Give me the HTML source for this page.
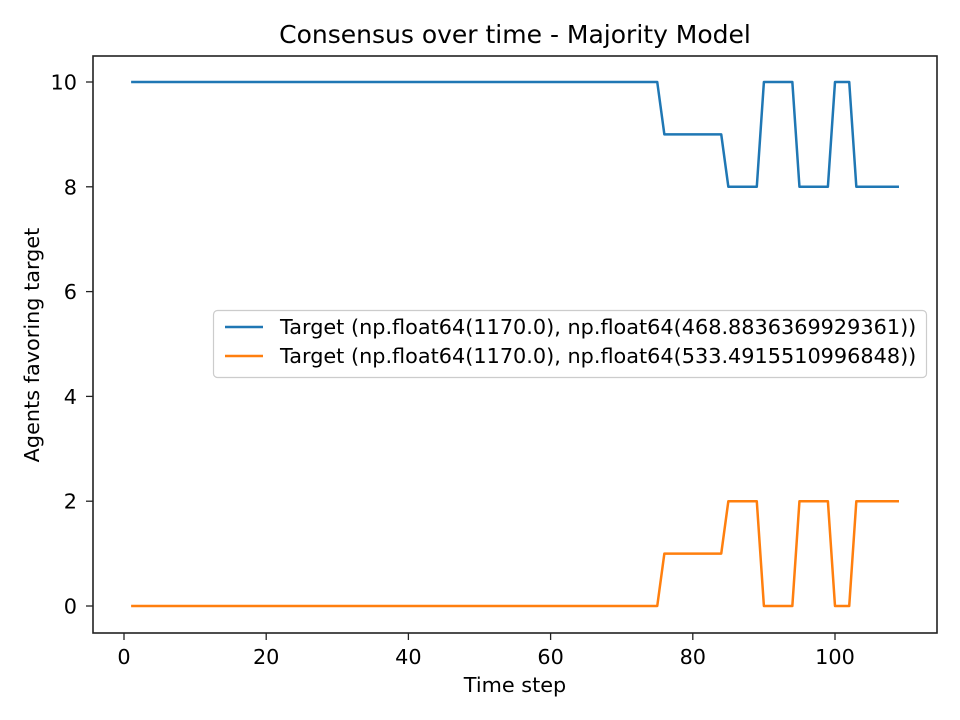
<!DOCTYPE html>
<html><head><meta charset="utf-8"><style>
html,body{margin:0;padding:0;background:#fff;}
svg{display:block;font-family:"DejaVu Sans","Liberation Sans",sans-serif;}
</style></head><body>
<svg id="chart" width="960" height="720" viewBox="0 0 960 720">
<rect width="960" height="720" fill="#fff"/>
<text x="515" y="43" font-size="25" text-anchor="middle" fill="#000">Consensus over time - Majority Model</text>
<g id="lines"></g>
<rect x="93" y="56" width="844" height="577" fill="none" stroke="#222" stroke-width="1.6"/>
<g id="ticks"></g>
<text x="515" y="692" font-size="20.8" text-anchor="middle">Time step</text>
<text transform="translate(39,345) rotate(-90)" font-size="20.8" text-anchor="middle">Agents favoring target</text>
<g>
<rect x="213.5" y="310.5" width="713" height="67" rx="4" fill="#fff" fill-opacity="0.8" stroke="#ccc" stroke-width="1.2"/>
<line x1="225" y1="327" x2="263" y2="327" stroke="#1f77b4" stroke-width="2.5"/>
<text x="280" y="334" font-size="20.8">Target (np.float64(1170.0), np.float64(468.8836369929361))</text>
<line x1="225" y1="356" x2="263" y2="356" stroke="#ff7f0e" stroke-width="2.5"/>
<text x="280" y="363" font-size="20.8">Target (np.float64(1170.0), np.float64(533.4915510996848))</text>
</g>
</svg>
<script>
const xTicks = [0, 20, 40, 60, 80, 100];
const yTicks = [0, 2, 4, 6, 8, 10];
const blueVals = [
10,10,10,10,10,10,10,10,10,10,10,10,10,10,10,
10,10,10,10,10,10,10,10,10,10,10,10,10,10,10,
10,10,10,10,10,10,10,10,10,10,10,10,10,10,10,
10,10,10,10,10,10,10,10,10,10,10,10,10,10,10,
10,10,10,10,10,10,10,10,10,10,10,10,10,10,10,
9,9,9,9,9,9,9,9,9,
8,8,8,8,8,
10,10,10,10,10,
8,8,8,8,8,
10,10,10,
8,8,8,8,8,8,8];
const orangeVals = [
0,0,0,0,0,0,0,0,0,0,0,0,0,0,0,
0,0,0,0,0,0,0,0,0,0,0,0,0,0,0,
0,0,0,0,0,0,0,0,0,0,0,0,0,0,0,
0,0,0,0,0,0,0,0,0,0,0,0,0,0,0,
0,0,0,0,0,0,0,0,0,0,0,0,0,0,0,
1,1,1,1,1,1,1,1,1,
2,2,2,2,2,
0,0,0,0,0,
2,2,2,2,2,
0,0,0,
2,2,2,2,2,2,2];
const steps = blueVals.map((v, i) => i + 1);

const NS = "http://www.w3.org/2000/svg";
function xs(v) { return 124 + (v - 0) * (835 - 124) / 100; }
function ys(v) { return 606 - v * (606 - 82) / 10; }

const lines = document.getElementById('lines');
function drawSeries(vals, color, name) {
  const p = document.createElementNS(NS, 'polyline');
  p.setAttribute('points', vals.map((v, i) => xs(steps[i]) + ',' + ys(v)).join(' '));
  p.setAttribute('fill', 'none');
  p.setAttribute('stroke', color);
  p.setAttribute('stroke-width', '2.5');
  p.setAttribute('stroke-linejoin', 'round');
  
  
  lines.appendChild(p);
}
drawSeries(blueVals, '#1f77b4', 'series-1-line');
drawSeries(orangeVals, '#ff7f0e', 'series-2-line');

const ticks = document.getElementById('ticks');
xTicks.forEach(t => {
  const l = document.createElementNS(NS, 'line');
  l.setAttribute('x1', xs(t)); l.setAttribute('x2', xs(t));
  l.setAttribute('y1', 633); l.setAttribute('y2', 640);
  l.setAttribute('stroke', '#222'); l.setAttribute('stroke-width', '1.3');
  
  
  ticks.appendChild(l);
  const tx = document.createElementNS(NS, 'text');
  tx.setAttribute('x', xs(t)); tx.setAttribute('y', 664);
  tx.setAttribute('font-size', '20.8'); tx.setAttribute('text-anchor', 'middle');
  tx.textContent = t;
  
  
  ticks.appendChild(tx);
});
yTicks.forEach(t => {
  const l = document.createElementNS(NS, 'line');
  l.setAttribute('x1', 86); l.setAttribute('x2', 93);
  l.setAttribute('y1', ys(t)); l.setAttribute('y2', ys(t));
  l.setAttribute('stroke', '#222'); l.setAttribute('stroke-width', '1.3');
  
  
  ticks.appendChild(l);
  const tx = document.createElementNS(NS, 'text');
  tx.setAttribute('x', 77); tx.setAttribute('y', ys(t) + 7.5);
  tx.setAttribute('font-size', '20.8'); tx.setAttribute('text-anchor', 'end');
  tx.textContent = t;
  
  
  ticks.appendChild(tx);
});
</script>
</body></html>
